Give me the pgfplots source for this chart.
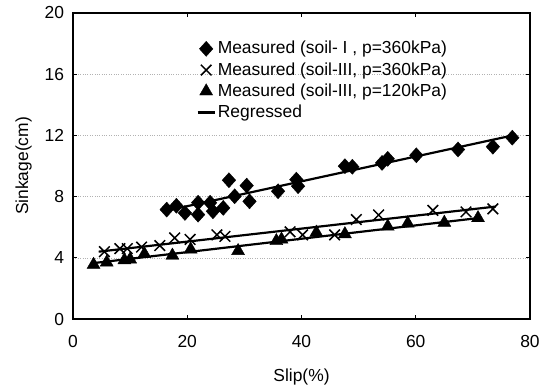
\documentclass[border=0pt]{standalone}
\usepackage{pgfplots}
\pgfplotsset{compat=1.18}
\usepackage{fontspec}
\setmainfont{Liberation Sans}
\begin{document}
\fontsize{17.5}{21}\selectfont
\begin{tikzpicture}
\begin{axis}[
  scale only axis,
  width=457bp, height=306bp,
  xmin=0, xmax=80, ymin=0, ymax=20,
  xtick={0,20,40,60,80}, ytick={0,4,8,12,16,20},
  tick align=inside, major tick length=4bp,
  tick style={black, line width=0.8pt},
  axis line style={line width=1.8pt},
  ymajorgrids, grid style={gray!60, dotted, line width=0.6pt},
  /pgf/number format/assume math mode=true,
  xticklabel style={yshift=-10bp},
  yticklabel style={xshift=-3bp},
  xlabel={Slip(\%)}, ylabel={Sinkage(cm)},
  xlabel style={yshift=-10bp},
  ylabel style={yshift=1bp},
  legend style={draw=none, fill=none, at={(0.27,0.915)}, anchor=north west,
    row sep=2bp, font=\fontsize{17.5}{20}\selectfont, inner sep=0pt},
  legend cell align=left,
  clip=false,
]
\addplot[only marks, mark=diamond*, mark size=7.5bp, mark options={xscale=1.2, fill=black}, black] coordinates {
(16.4,7.15) (18.1,7.4) (19.6,6.93) (21.9,7.6) (21.9,6.82) (24.0,7.6) (24.5,7.04) (26.3,7.26)
(27.3,9.07) (28.3,8.02) (30.4,8.72) (30.9,7.69) (35.9,8.35) (39.1,9.11) (39.4,8.68)
(47.6,9.99) (48.9,9.95) (54.1,10.2) (55.1,10.47) (60.1,10.7) (67.4,11.08) (73.5,11.26) (76.9,11.85)
};
\addlegendentry{Measured (soil- I , p=360kPa)}
\addplot[only marks, mark=x, mark size=7.5bp, mark options={line width=1.5pt}, black] coordinates {
(5.5,4.4) (8.2,4.6) (9.5,4.6) (12,4.7) (15.2,4.8) (17.8,5.3) (20.5,5.2) (25.2,5.5) (26.6,5.4)
(38,5.7) (40.2,5.5) (45.8,5.5) (49.6,6.5) (53.5,6.8) (63,7.1) (68.8,7.0) (73.5,7.2)
};
\addlegendentry{Measured (soil-III, p=360kPa)}
\addplot[only marks, mark=triangle*, mark size=7.5bp, mark options={fill=black}, black] coordinates {
(3.6,3.55) (5.9,3.7) (9.0,3.85) (10,3.9) (12.5,4.25) (17.4,4.15) (20.6,4.55) (28.9,4.45)
(35.6,5.1) (36.5,5.2) (42.6,5.65) (47.6,5.55) (55.1,6.05) (58.6,6.25) (65,6.3) (70.9,6.6)
};
\addlegendentry{Measured (soil-III, p=120kPa)}
\addplot[black, line width=2.2pt, no marks] coordinates {(16,7.05) (77,12.0)};
\addlegendentry{Regressed}
\addplot[black, line width=2.2pt, no marks, forget plot] coordinates {(4.5,4.4) (74,7.35)};
\addplot[black, line width=2.2pt, no marks, forget plot] coordinates {(3.5,3.65) (71,6.6)};
\end{axis}
\pgfresetboundingbox
\path[use as bounding box] (current axis.south west) ++(-73bp,-68bp) rectangle ++(547bp,387bp);
\end{tikzpicture}
\end{document}
